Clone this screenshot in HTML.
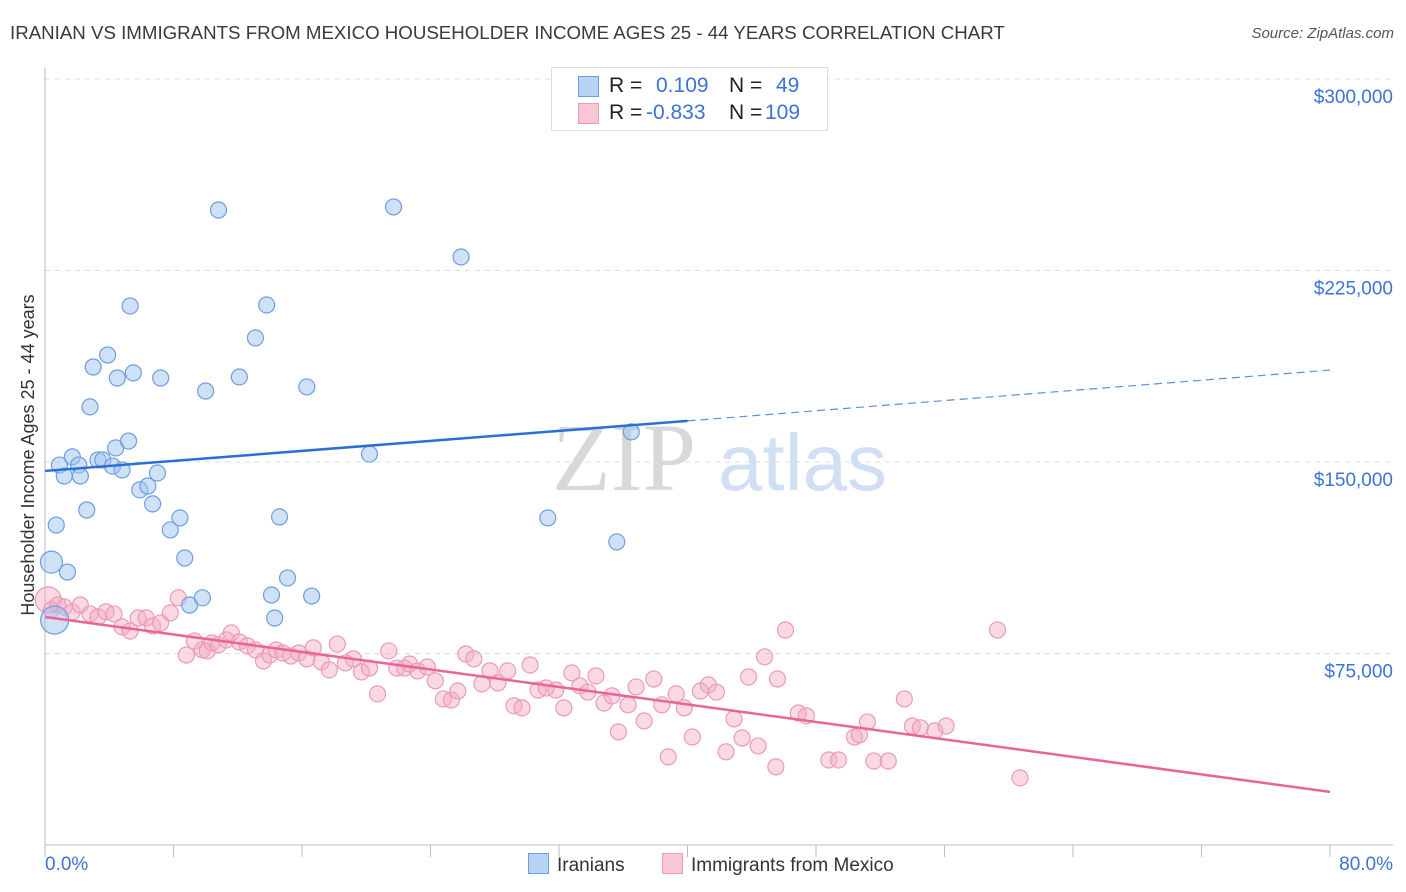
<!DOCTYPE html>
<html><head><meta charset="utf-8">
<style>
body{margin:0;background:#fff;font-family:"Liberation Sans",sans-serif;}
#wrap{position:relative;width:1406px;height:892px;overflow:hidden;}
.t{position:absolute;white-space:nowrap;}
</style></head>
<body>
<div id="wrap">
<div class="t" style="left:10px;top:22px;font-size:18.7px;color:#3a3a3a;">IRANIAN VS IMMIGRANTS FROM MEXICO HOUSEHOLDER INCOME AGES 25 - 44 YEARS CORRELATION CHART</div>
<div class="t" style="right:12px;top:25px;font-size:15px;color:#555;font-style:italic;">Source: ZipAtlas.com</div>
<svg id="svg" width="1406" height="892" style="position:absolute;left:0;top:0"></svg>
</div>
<script>
const yTicks=[75000,150000,225000,300000];
const yTickLabels=["$75,000","$150,000","$225,000","$300,000"];
const xTickLabels=["0.0%","80.0%"];
const blueX=[0.6,0.4,0.7,1.4,0.9,1.2,1.7,2.1,2.2,2.6,2.8,3.0,3.3,3.6,3.9,4.2,4.5,4.4,4.8,5.2,5.3,5.5,5.9,6.4,6.7,7.0,7.2,7.8,8.4,8.7,9.0,9.8,10.0,10.8,12.1,13.1,13.8,14.1,14.3,14.6,15.1,16.3,16.6,20.2,21.7,25.9,31.3,35.6,36.5];
const blueY=[88.1,110.8,125.3,106.9,148.8,144.5,152.0,148.8,144.5,131.2,171.6,187.2,150.8,150.8,191.9,148.4,182.9,155.5,146.9,158.2,211.1,184.9,139.1,140.6,133.6,145.7,182.9,123.4,128.1,112.4,94.0,96.8,177.8,248.7,183.3,198.6,211.5,97.9,88.9,128.5,104.6,179.4,97.5,153.1,249.9,230.3,128.1,118.7,161.8];
const pinkX=[0.2,0.4,0.8,1.2,1.7,2.2,2.8,3.3,3.8,4.3,4.8,5.3,5.8,6.3,6.7,7.2,7.8,8.3,8.8,9.3,9.8,10.1,10.4,10.8,11.3,11.6,12.1,12.6,13.1,13.6,14.0,14.4,14.8,15.3,15.8,16.3,16.7,17.2,17.7,18.2,18.7,19.2,19.7,20.2,20.7,21.4,21.9,22.4,22.7,23.2,23.8,24.3,24.8,25.3,25.7,26.2,26.7,27.2,27.7,28.2,28.8,29.2,29.7,30.2,30.7,31.2,31.8,32.3,32.8,33.3,33.8,34.3,34.8,35.3,35.7,36.3,36.8,37.3,37.9,38.4,38.8,39.3,39.8,40.3,40.8,41.3,41.8,42.4,42.9,43.4,43.8,44.4,44.8,45.5,45.6,46.1,46.9,47.4,48.8,49.4,50.4,50.7,51.2,51.6,52.5,53.5,54.0,54.5,55.4,56.1,59.3,60.7];
const pinkY=[96.0,92.1,94.0,93.2,91.3,94.0,90.5,89.3,91.3,90.5,85.4,83.8,88.9,88.9,85.8,87.0,90.9,96.8,74.4,79.9,76.4,76.0,79.1,78.4,80.3,83.1,79.5,78.0,76.4,72.1,74.4,76.4,75.2,74.0,75.2,72.9,77.2,71.7,68.6,78.7,71.3,72.9,67.8,69.3,59.2,76.0,69.3,69.3,70.9,68.2,69.7,64.3,57.2,56.8,60.3,74.8,72.9,63.1,68.2,63.5,68.2,54.5,53.7,70.5,60.7,61.5,60.7,53.7,67.4,62.3,59.9,66.2,55.6,58.4,44.3,54.9,61.9,48.6,65.0,54.9,34.5,59.2,53.7,42.3,60.3,62.7,59.9,36.5,49.4,41.9,65.8,38.8,73.7,30.6,65.0,84.2,51.7,50.6,33.3,33.3,42.3,43.1,48.2,32.9,32.9,57.2,46.6,45.9,44.7,46.6,84.2,26.3];
const blueBig=[14,11];
const blueTrend=[146.5,166.1,186.0]; // at 0%,40%,80%
const pinkTrend=[89.3,20.8]; // at 0%,80%

const NS="http://www.w3.org/2000/svg";
const svg=document.getElementById('svg');
const X0=45,X1=1330,Y0=845,Y300=79;
const sx=p=>X0+p*(X1-X0)/80;
const sy=v=>Y0-(v/300000)*(Y0-Y300);
const syk=k=>sy(k*1000);
function mk(tag,attrs,parent){const e=document.createElementNS(NS,tag);for(const k in attrs)e.setAttribute(k,attrs[k]);(parent||svg).appendChild(e);return e;}

yTicks.forEach((v,i)=>{
  const g=mk('line',{x1:X0,x2:1393,y1:sy(v),y2:sy(v),stroke:'#dcdcdc','stroke-dasharray':'5,5'});
  
  
  const t=mk('text',{x:1393,y:sy(v)+24,'text-anchor':'end','font-size':19,fill:'#3d73d4','font-family':'Liberation Sans, sans-serif'});
  t.textContent=yTickLabels[i];
  
  
});
const ya=mk('line',{x1:X0,x2:X0,y1:68,y2:Y0,stroke:'#bbb'});


const xa=mk('line',{x1:X0,x2:1393,y1:Y0,y2:Y0,stroke:'#bbb'});


for(let i=0;i<=10;i++){
  const tk=mk('line',{x1:sx(i*8),x2:sx(i*8),y1:Y0,y2:Y0+12,stroke:'#bbb'});
  
  
}
const xl0=mk('text',{x:45,y:870,'font-size':19,fill:'#3d73d4','font-family':'Liberation Sans, sans-serif'});
xl0.textContent=xTickLabels[0];


const xl1=mk('text',{x:1393,y:870,'text-anchor':'end','font-size':19,fill:'#3d73d4','font-family':'Liberation Sans, sans-serif'});
xl1.textContent=xTickLabels[1];


const yt=mk('text',{x:0,y:0,transform:'translate(34,455) rotate(-90)','text-anchor':'middle','font-size':18,fill:'#333','font-family':'Liberation Sans, sans-serif'});
yt.textContent='Householder Income Ages 25 - 44 years';



const wm=mk('text',{x:552,y:490,'font-size':96,fill:'#d8d8d8','font-family':'Liberation Serif, serif'});
wm.textContent='ZIP';


const wm2=mk('text',{x:718,y:490,'font-size':80,fill:'#d0dff3','font-family':'Liberation Sans, sans-serif'});
wm2.textContent='atlas';



pinkX.forEach((x,i)=>{
  const c=mk('circle',{cx:sx(x),cy:syk(pinkY[i]),r:i==0?13:8,fill:'rgba(244,170,196,0.45)',stroke:'#ec9ab8','stroke-width':1.2});
  
  
});
blueX.forEach((x,i)=>{
  const c=mk('circle',{cx:sx(x),cy:syk(blueY[i]),r:blueBig[i]||8,fill:'rgba(160,195,240,0.5)',stroke:'#6d9de2','stroke-width':1.2});
  
  
});
const bt=mk('line',{x1:sx(0),y1:syk(blueTrend[0]),x2:sx(40),y2:syk(blueTrend[1]),stroke:'#2a6fd6','stroke-width':2.5});


const bd=mk('line',{x1:sx(40),y1:syk(blueTrend[1]),x2:sx(80),y2:syk(blueTrend[2]),stroke:'#5a8fe0','stroke-width':1.2,'stroke-dasharray':'8,5'});


const pt=mk('line',{x1:sx(0),y1:syk(pinkTrend[0]),x2:sx(80),y2:syk(pinkTrend[1]),stroke:'#e8649a','stroke-width':2.5});


</script>
<div class="t" style="left:551px;top:67px;width:275px;height:62px;border:1px solid #ddd;background:#fff;font-size:21px;">
  <div style="position:absolute;left:26px;top:8px;width:19px;height:19px;background:#b9d3f5;border:1px solid #6d9de2;"></div>
  <div class="t" style="left:57px;top:6px;color:#222;">R =</div>
  <div class="t" style="left:104px;top:6px;color:#3d73d4;">0.109</div>
  <div class="t" style="left:177px;top:6px;color:#222;">N =</div>
  <div class="t" style="left:224px;top:6px;color:#3d73d4;">49</div>
  <div style="position:absolute;left:26px;top:35px;width:19px;height:19px;background:#f8c6d6;border:1px solid #ec9ab8;"></div>
  <div class="t" style="left:57px;top:33px;color:#222;">R =</div>
  <div class="t" style="left:94px;top:33px;color:#3d73d4;">-0.833</div>
  <div class="t" style="left:177px;top:33px;color:#222;">N =</div>
  <div class="t" style="left:213px;top:33px;color:#3d73d4;">109</div>
</div>
<div class="t" style="left:528px;top:853px;font-size:19px;color:#333;">
  <span style="display:inline-block;width:19px;height:19px;background:#b9d3f5;border:1px solid #6d9de2;vertical-align:-3px;margin-right:8px;"></span>Iranians</div>
<div class="t" style="left:662px;top:853px;font-size:19px;color:#333;">
  <span style="display:inline-block;width:19px;height:19px;background:#f8c6d6;border:1px solid #ec9ab8;vertical-align:-3px;margin-right:8px;"></span>Immigrants from Mexico</div>
</body></html>
